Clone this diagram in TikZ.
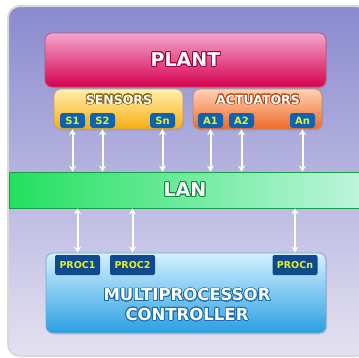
\documentclass[tikz,border=0pt]{standalone}
\usepackage{fontspec}
\setmainfont{DejaVu Sans}
\usepackage{contour}
\usetikzlibrary{arrows.meta,shadows}
\contourlength{0.8pt}
\contournumber{24}

\definecolor{panelTop}{HTML}{8A8ACF}
\definecolor{panelBot}{HTML}{E4E1F1}
\definecolor{plantTop}{HTML}{F4A6CC}
\definecolor{plantBot}{HTML}{D6004E}
\definecolor{plantEdge}{HTML}{A8003C}
\definecolor{sensTop}{HTML}{FFEFB0}
\definecolor{sensBot}{HTML}{F7AE10}
\definecolor{sensEdge}{HTML}{8A6010}
\definecolor{actTop}{HTML}{FFD2B4}
\definecolor{actBot}{HTML}{EE6A28}
\definecolor{actEdge}{HTML}{B84A18}
\definecolor{tagBlue}{HTML}{0E62B4}
\definecolor{tagText}{HTML}{E6F028}
\definecolor{lanLeft}{HTML}{22E05E}
\definecolor{lanRight}{HTML}{BDF5DC}
\definecolor{lanEdge}{HTML}{0E8A3A}
\definecolor{ctrlTop}{HTML}{D4F1FF}
\definecolor{ctrlBot}{HTML}{2A9FE2}
\definecolor{ctrlEdge}{HTML}{1A6EB0}
\definecolor{procBlue}{HTML}{0F4A8E}

\tikzset{
  panelbox/.style={rounded corners=7pt, draw=#1, line width=0.8pt,
    drop shadow={opacity=0.25, shadow xshift=1pt, shadow yshift=-1.5pt}},
  tagbox/.style={rounded corners=3pt, fill=tagBlue, text=tagText,
    font=\bfseries\fontsize{10}{11}\selectfont, inner sep=0pt,
    minimum width=25pt, minimum height=15pt},
  procbox/.style={rounded corners=2pt, fill=procBlue, text=tagText,
    font=\bfseries\fontsize{9.5}{10}\selectfont, inner sep=0pt,
    minimum width=45pt, minimum height=20pt},
  link/.style={white, line width=2pt, {Stealth[length=6pt,width=7pt]}-{Stealth[length=6pt,width=7pt]}},
  big/.style={text=white, font=\bfseries\fontsize{#1}{#1}\selectfont}
}

\begin{document}
\begin{tikzpicture}[x=1pt, y=-1pt]
  \useasboundingbox (0,0) rectangle (359,357);
  \fill[white] (0,0) rectangle (359,357);
  % outer panel
  \draw[black!15, line width=2pt, rounded corners=12pt, top color=panelTop, bottom color=panelBot]
    (8,6) rectangle (368,356);

  % plant
  \node[panelbox=plantEdge!70, top color=plantTop, bottom color=plantBot,
    minimum width=281pt, minimum height=54pt, big=19] (plant) at (185.5,60)
    {\contour{plantEdge}{PLANT}};

  % sensors and actuators
  \node[panelbox=sensEdge!60, top color=sensTop, bottom color=sensBot,
    minimum width=129pt, minimum height=40pt] (sensors) at (118.5,109) {};
  \node[panelbox=actEdge!70, top color=actTop, bottom color=actBot,
    minimum width=129pt, minimum height=40pt] (actuators) at (257.5,109) {};
  \node[big=12.5] (senslbl) at (119,100) {\contour{sensEdge}{SENSORS}};
  \node[big=12.5] (actlbl) at (258,100) {\contour{actEdge}{ACTUATORS}};

  \node[tagbox] (s1) at (72.5,120.5) {S1};
  \node[tagbox] (s2) at (102.5,120.5) {S2};
  \node[tagbox] (sn) at (162.5,120.5) {Sn};
  \node[tagbox] (a1) at (210.5,120.5) {A1};
  \node[tagbox] (a2) at (241.5,120.5) {A2};
  \node[tagbox] (an) at (302.5,120.5) {An};

  % network
  \node[left color=lanLeft, right color=lanRight, draw=lanLeft!70!black, line width=0.6pt,
    minimum width=352pt, minimum height=36pt, inner sep=0pt] (lan) at (185,190) {};
  \node[big=19] (lanlbl) at (185,190) {\contour{lanEdge}{LAN}};

  % controller
  \node[panelbox=ctrlEdge!60, top color=ctrlTop, bottom color=ctrlBot,
    minimum width=280pt, minimum height=80pt] (ctrl) at (186,293) {};
  \node[big=16.5, align=center] (ctrllbl) at (187,305)
    {\contour{ctrlEdge}{MULTIPROCESSOR}\\[3pt]\contour{ctrlEdge}{CONTROLLER}};

  \node[procbox] (p1) at (77.5,265) {PROC1};
  \node[procbox] (p2) at (132.5,265) {PROC2};
  \node[procbox] (pn) at (295,265) {PROCn};

  % links
  \foreach \n in {s1,s2,sn,a1,a2,an}
    \draw[link] (\n.south) ++(0,1) -- (\n.south |- lan.north);
  \foreach \n in {p1,p2,pn}
    \draw[link] (\n |- lan.south) -- (\n.north |- ctrl.north);
\end{tikzpicture}
\end{document}
